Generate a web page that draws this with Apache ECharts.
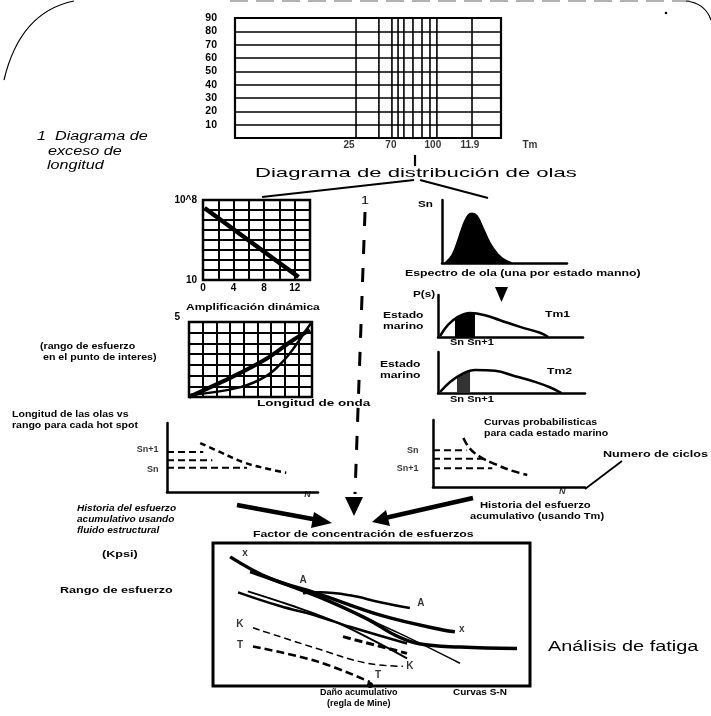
<!DOCTYPE html>
<html><head><meta charset="utf-8">
<script src="https://cdn.jsdelivr.net/npm/echarts/dist/echarts.min.js"></script>
<style>html,body{margin:0;padding:0;background:#fff}#c{width:711px;height:716px}</style>
</head><body><div id="c"></div>
<script>
// ---------- DATA ----------
const topYTicks = [0,10,20,30,40,50,60,70,80,90];
const topVLines = [45.5,54.1,59.0,61.3,63.5,66.9,70.3,73.3,75.9,89.1];
const topXTickLabels = ['25','70','100','11.9','Tm'];
const topXTickPos = [42.9,58.6,74.4,88.3,110.9];

const logXLabels = [0,4,8,12];
const logLine = [[0.2,7.2],[12.5,0.3]];

const ampStraight = [[0,0],[3.2,1.9],[5.7,3.6],[7.6,5.3],[8.85,6.25]];
const ampCurve = [[0.1,0.2],[3.7,0.9],[5.7,2.0],[7.0,3.5],[7.8,4.8],[8.6,6.3],[9,7]];

const leftNTickLabels = ['Sn+1','Sn'];
const leftNTickVals = [6.2,3.2];
const leftNDash1 = [[0,5.8],[2.4,5.8]];
const leftNDash2 = [[0,4.6],[3.0,4.6]];
const leftNDash3 = [[0,3.5],[5.3,3.5]];
const leftNCurve = [[2.2,7.1],[3.5,5.8],[5.2,4.2],[6.8,3.3],[7.9,2.8]];

const spectrum = [[0.24,0],[0.8,1.27],[1.28,3.65],[1.68,6.0],[2.08,7.6],[2.4,7.9],[2.8,7.5],[3.28,5.6],[3.84,3.2],[4.48,1.4],[5.04,0.5],[5.6,0]];

const ps1 = [[0.14,0.24],[0.69,2.9],[1.38,4.8],[2.2,5.7],[3.24,5.2],[4.28,4.0],[5.66,2.4],[7.03,1.0],[7.6,0]];
const ps1Band = [[1.17,0],[1.17,4.4],[1.8,5.4],[2.55,5.6],[2.55,0]];
const ps2 = [[0.14,0.24],[0.82,2.7],[1.63,4.6],[2.52,5.6],[3.88,5.4],[5.24,4.1],[6.6,2.7],[7.6,1.4],[8.4,0]];
const ps2Band = [[1.29,0],[1.29,3.9],[1.8,4.8],[2.18,5.2],[2.18,0]];

const rightNTickLabels = ['Sn','Sn+1'];
const rightNTickVals = [5.5,2.7];
const rightNDash1 = [[0,5.5],[2.2,5.5]];
const rightNDash2 = [[0,4.2],[3.3,4.2]];
const rightNDash3 = [[0,2.8],[3.9,2.8]];
const rightNCurve = [[2.0,7.3],[2.4,5.8],[3.1,4.5],[4.1,3.4],[5.1,2.5],[6.2,1.8]];

const snX = [[5.4,90.3],[18.0,75.2],[32.8,64.8],[53.6,49.0],[73.8,38.6],[76.3,37.9]];
const snA = [[28.4,64.8],[33.8,65.5],[43.2,63.4],[52.7,58.6],[62.1,54.5]];
const snLong = [[11.7,80.0],[32.8,62.8],[48.6,46.9],[57.5,35.5],[65,29.5],[78,27.2],[95.9,26.2]];
const snThin = [[32.8,62.8],[59.0,36.6],[77.9,15.9]];
const snLow1 = [[7.9,65.5],[21.1,55.9],[32.8,49.0],[43.2,41.4],[61.2,29.7]];
const snLow2 = [[11.0,66.2],[24.3,56.6],[37.9,45.5],[49.5,33.1],[61.2,19.3]];
const snDashThick = [[41.0,34.5],[61.2,22.8]];
const snK = [[12.6,40.7],[32.8,26.2],[48.6,15.9],[59.9,13.8]];
const snT = [[12.6,27.6],[32.8,17.2],[49.5,2.8]];
const snLabelText = ['x','A','A','x','K','K','T','T'];
const snLabelPos = [[10.1,93.1],[28.4,73.8],[65.6,57.9],[78.5,40.0],[8.5,43.4],[62.1,13.8],[8.5,28.3],[52.1,7.6]];

// ---------- CHART ----------
const F = '"Liberation Sans", Arial, sans-serif';
const SX = 1.3;
const chart = echarts.init(document.getElementById('c'));

const grids = [
  {left:235, top:18, width:266, height:120},
  {left:203, top:200, width:107, height:80},
  {left:189, top:322, width:123, height:75},
  {left:167, top:423, width:151, height:69},
  {left:442, top:200, width:125, height:63},
  {left:438, top:295, width:145, height:42},
  {left:438, top:352, width:147, height:41},
  {left:433, top:420, width:152, height:67},
  {left:213, top:543, width:317, height:143}
];
const boxed = {0:2.2, 1:2.5, 2:2.5, 8:3};
const gridOpts = grids.map((g,i)=>Object.assign({containLabel:false, show: boxed[i]!==undefined, borderColor:'#000', borderWidth: boxed[i]||0, backgroundColor:'transparent'}, g));

const hidden = {show:false};
function plainAxis(gi, max, extra){
  return Object.assign({gridIndex:gi, type:'value', min:0, max:max,
    axisLine:{show:true, onZero:false, lineStyle:{color:'#000', width:2.5}},
    axisTick:hidden, axisLabel:hidden, splitLine:hidden}, extra||{});
}
function gridAxis(gi, max, interval, lw, labelCfg){
  return {gridIndex:gi, type:'value', min:0, max:max, interval:interval,
    axisLine:hidden, axisTick:hidden,
    axisLabel: labelCfg || hidden,
    splitLine:{show:true, lineStyle:{color:'#000', width:lw}}};
}
const lblFont = {color:'#000', fontFamily:F, fontWeight:'bold', fontSize:9};
const tickFont = {color:'#000', fontFamily:F, fontWeight:'bold', fontSize:10.5};

const xAxes = [
  {gridIndex:0, type:'value', min:0, max:100, axisLine:hidden, axisTick:hidden, axisLabel:hidden, splitLine:hidden},
  gridAxis(1, 14, 2, 2, Object.assign({show:true, margin:3, formatter:v=>logXLabels.includes(v)?String(v):''}, tickFont, {fontSize:10})),
  gridAxis(2, 9, 1, 2),
  plainAxis(3, 10),
  plainAxis(4, 10),
  plainAxis(5, 10),
  plainAxis(6, 10),
  plainAxis(7, 10),
  {gridIndex:8, type:'value', min:0, max:100, axisLine:hidden, axisTick:hidden, axisLabel:hidden, splitLine:hidden}
];
const yAxes = [
  {gridIndex:0, type:'value', min:0, max:90, interval:10, axisLine:hidden, axisTick:hidden,
    axisLabel:Object.assign({show:true, margin:18, formatter:v=>v===0?'':String(v)}, tickFont),
    splitLine:{show:true, lineStyle:{color:'#000', width:1.6}}},
  gridAxis(1, 8, 1, 2, Object.assign({show:true, margin:6, formatter:v=>v===8?'10^8':(v===0?'10':'')}, tickFont, {fontSize:10})),
  gridAxis(2, 7, 1, 2, Object.assign({show:true, margin:9, verticalAlign:'bottom', formatter:v=>v===7?'5':''}, tickFont, {fontSize:10})),
  plainAxis(3, 10),
  plainAxis(4, 10),
  plainAxis(5, 10),
  plainAxis(6, 10),
  plainAxis(7, 10),
  {gridIndex:8, type:'value', min:0, max:100, axisLine:hidden, axisTick:hidden, axisLabel:hidden, splitLine:hidden}
];

function line(gi, data, width, opts){
  return Object.assign({type:'line', xAxisIndex:gi, yAxisIndex:gi, data:data, symbol:'none', silent:true, animation:false,
    lineStyle:{color:'#000', width:width}}, opts||{});
}
function labels(gi, pts, texts, labelOpts){
  return {type:'scatter', xAxisIndex:gi, yAxisIndex:gi, clip:false, silent:true, animation:false,
    symbolSize:1, itemStyle:{color:'rgba(0,0,0,0)'},
    data: pts.map((p,i)=>({value:p, label:{formatter:texts[i]}})),
    label:Object.assign({show:true, position:'inside'}, lblFont, labelOpts||{})};
}

const series = [];
topVLines.forEach(v=>series.push(line(0, [[v,0],[v,90]], 1.6)));
series.push(labels(0, topXTickPos.map(x=>[x,0]), topXTickLabels, {position:'bottom', distance:2, fontSize:10}));
series.push(line(1, logLine, 4.5));
series.push(line(2, ampStraight, 4, {smooth:0.3}));
series.push(line(2, ampCurve, 2.5, {smooth:0.4}));
series.push(line(3, leftNDash1, 2, {lineStyle:{color:'#000', width:2, type:[7,4]}}));
series.push(line(3, leftNDash2, 2, {lineStyle:{color:'#000', width:2, type:[7,4]}}));
series.push(line(3, leftNDash3, 2, {lineStyle:{color:'#000', width:2, type:[7,4]}}));
series.push(line(3, leftNCurve, 2.5, {smooth:0.4, lineStyle:{color:'#000', width:2.5, type:[6,4]}}));
series.push(labels(3, leftNTickVals.map(v=>[0,v]), leftNTickLabels, {position:'left', distance:8}));
series.push(labels(3, [[9.3,0]], ['N'], {position:'bottom', distance:-2, fontStyle:'italic'}));
series.push(line(4, spectrum, 1.5, {smooth:0.4, areaStyle:{color:'#000', opacity:1}}));
series.push(line(5, ps1, 2.5, {smooth:0.4}));
series.push(line(5, ps1Band, 0, {smooth:0.3, areaStyle:{color:'#000', opacity:1}}));
series.push(line(6, ps2, 2.5, {smooth:0.4}));
series.push(line(6, ps2Band, 0, {smooth:0.3, areaStyle:{color:'#333', opacity:1}}));
series.push(line(7, rightNDash1, 2, {lineStyle:{color:'#000', width:2, type:[7,4]}}));
series.push(line(7, rightNDash2, 2, {lineStyle:{color:'#000', width:2, type:[7,4]}}));
series.push(line(7, rightNDash3, 2, {lineStyle:{color:'#000', width:2, type:[7,4]}}));
series.push(line(7, rightNCurve, 2.5, {smooth:0.4, lineStyle:{color:'#000', width:2.5, type:[8,4]}}));
series.push(labels(7, rightNTickVals.map(v=>[0,v]), rightNTickLabels, {position:'left', distance:14}));
series.push(labels(7, [[8.5,0]], ['N'], {position:'bottom', distance:0, fontStyle:'italic'}));
series.push(line(8, snX, 3.5, {smooth:0.4}));
series.push(line(8, snA, 2.5, {smooth:0.4}));
series.push(line(8, snLong, 3.5, {smooth:0.4}));
series.push(line(8, snThin, 1.5, {smooth:0.3}));
series.push(line(8, snLow1, 2.5, {smooth:0.4}));
series.push(line(8, snLow2, 2, {smooth:0.4}));
series.push(line(8, snDashThick, 3, {lineStyle:{color:'#000', width:3, type:[8,4]}}));
series.push(line(8, snK, 1.5, {smooth:0.4, lineStyle:{color:'#000', width:1.5, type:[7,4]}}));
series.push(line(8, snT, 2.5, {smooth:0.4, lineStyle:{color:'#000', width:2.5, type:[8,4]}}));
series.push(labels(8, snLabelPos, snLabelText, {fontSize:10}));

// ---------- TEXT & DECORATION ----------
function T(x,y,text,size,o){
  o=o||{};
  return {type:'text', x:x, y:y, scaleX:(o.sx||SX), silent:true, z:10,
    style:{text:text, x:0, y:0, fill:'#000',
      font:(o.italic?'italic ':'')+(o.bold?'bold ':'')+size+'px '+F,
      textAlign:o.align||'left', textVerticalAlign:'middle', verticalAlign:'middle'}};
}
function L(pts,w,o){
  o=o||{};
  return {type:'polyline', silent:true, z:5, shape:{points:pts},
    style:{stroke:o.color||'#000', lineWidth:w, fill:null, lineDash:o.dash||null, lineCap:'butt'}};
}
function P(pts){
  return {type:'polygon', silent:true, z:5, shape:{points:pts}, style:{fill:'#000'}};
}
const graphic = [
  {type:'bezierCurve', silent:true, shape:{x1:74,y1:1,cpx1:20,cpy1:12,x2:4,y2:80}, style:{stroke:'#000', lineWidth:1.2, fill:null}},
  {type:'bezierCurve', silent:true, shape:{x1:686,y1:1,cpx1:705,cpy1:3,x2:711,y2:20}, style:{stroke:'#000', lineWidth:1.2, fill:null}},
  L([[230,1],[690,1]],1,{dash:[18,8],color:'#666'}),
  {type:'circle', silent:true, shape:{cx:666, cy:13, r:1.3}, style:{fill:'#000'}},
  T(37,137,'1  Diagrama de',12,{italic:true,sx:1.35}),
  T(48,152,'exceso de',12,{italic:true,sx:1.35}),
  T(47,166,'longitud',12,{italic:true,sx:1.35}),
  L([[415,155],[415,166]],2.2),
  T(255,173,'Diagrama de distribución de olas',13,{sx:1.7}),
  L([[262,197],[414,180]],2),
  L([[420,180],[488,198]],2),
  T(361,201,'1',11,{sx:1.3}),
  L([[365,212],[355,494]],3,{dash:[14,14]}),
  P([[345,497],[363,497],[354,516]]),
  T(186,307,'Amplificación dinámica',9.5,{bold:true,sx:1.26}),
  T(40,346,'(rango de esfuerzo',9.5,{bold:true,sx:1.12}),
  T(43,357,'en el punto de interes)',9.5,{bold:true,sx:1.12}),
  T(257,403,'Longitud de onda',9.5,{bold:true,sx:1.42}),
  T(12,414,'Longitud de las olas vs',9.5,{bold:true,sx:1.11}),
  T(12,425,'rango para cada hot spot',9.5,{bold:true,sx:1.11}),
  T(77,508,'Historia del esfuerzo',9.5,{bold:true,italic:true,sx:1.06}),
  T(77,519,'acumulativo usando',9.5,{bold:true,italic:true,sx:1.06}),
  T(77,530,'fluido estructural',9.5,{bold:true,italic:true,sx:1.06}),
  L([[237,505],[318,520]],4.5),
  P([[314,512],[332,523],[311,528]]),
  T(418,205,'Sn',9,{bold:true,sx:1.3}),
  T(405,274,'Espectro de ola (una por estado manno)',9,{bold:true,sx:1.37}),
  P([[495,287],[508,287],[501.5,302]]),
  T(413,295,'P(s)',9,{bold:true,sx:1.3}),
  T(383,316,'Estado',9,{bold:true,sx:1.35}),
  T(383,327,'marino',9,{bold:true,sx:1.35}),
  T(545,315,'Tm1',9,{bold:true,sx:1.35}),
  T(450,343,'Sn Sn+1',8.5,{bold:true,sx:1.3}),
  T(380,365,'Estado',9,{bold:true,sx:1.35}),
  T(380,376,'marino',9,{bold:true,sx:1.35}),
  T(547,372,'Tm2',9,{bold:true,sx:1.35}),
  T(450,400,'Sn Sn+1',8.5,{bold:true,sx:1.3}),
  T(484,422,'Curvas probabilisticas',9.5,{bold:true,sx:1.11}),
  T(484,433,'para cada estado marino',9.5,{bold:true,sx:1.11}),
  T(603,455,'Numero de ciclos',9,{bold:true,sx:1.4}),
  L([[622,461],[585,489]],1.8),
  T(480,506,'Historia del esfuerzo',9,{bold:true,sx:1.25}),
  T(470,517,'acumulativo (usando Tm)',9,{bold:true,sx:1.23}),
  L([[473,498],[385,518]],4.5),
  P([[386,510],[372,522],[390,526]]),
  T(253,534,'Factor de concentración de esfuerzos',9.5,{bold:true,sx:1.29}),
  T(102,555,'(Kpsi)',9,{bold:true,sx:1.4}),
  T(60,591,'Rango de esfuerzo',9,{bold:true,sx:1.4}),
  T(320,693,'Daño acumulativo',9,{bold:true,sx:1.0}),
  T(327,704,'(regla de Mine)',9,{bold:true,sx:1.0}),
  T(453,693,'Curvas S-N',9,{bold:true,sx:1.11}),
  T(548,647,'Análisis de fatiga',14,{sx:1.42}),
  {type:'circle', silent:true, shape:{cx:370, cy:685, r:3}, style:{fill:'#000'}}
];

chart.setOption({
  animation:false,
  backgroundColor:'#fff',
  grid:gridOpts, xAxis:xAxes, yAxis:yAxes, series:series, graphic:graphic
});
</script></body></html>
